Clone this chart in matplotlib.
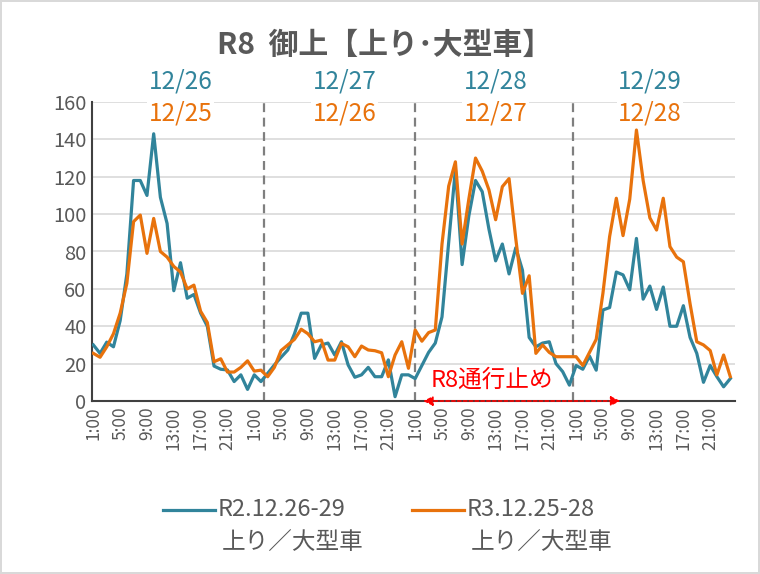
import numpy as np
import matplotlib
matplotlib.use("Agg")
import matplotlib.pyplot as plt
from matplotlib.lines import Line2D

plt.rcParams['font.family'] = ['Noto Sans CJK JP', 'DejaVu Sans']

# hourly counts, 4 days x 24 h
r2_vals = [30, 25.5, 31.5, 29, 43, 68, 118, 118, 110, 143, 109, 95, 59, 74, 55, 57, 47, 40, 18.7, 17, 16.6, 10.4, 14, 6.2,
           14, 10.4, 14.8, 19.3, 23.4, 27.3, 36, 47, 47, 22.8, 30, 31, 24.6, 31.7, 19.3, 12.7, 14, 18, 13, 13, 22, 2.3, 14, 14,
           12, 19, 26, 31, 45, 85, 124, 73, 99, 118, 112, 92, 75, 84, 68, 82, 70, 34, 29, 31, 31.7, 20, 15.7, 8.5,
           19, 17, 24, 16.5, 48.7, 50, 69, 67.5, 59.5, 87, 54.5, 61.5, 49, 61, 40, 40, 51, 34, 25.5, 10, 19, 13, 7.6, 12]
r3_vals = [25.5, 23.4, 29, 36, 47, 63, 96, 99.5, 79, 97.7, 80, 77, 72, 69, 60, 62, 48, 42, 21, 22.6, 15.5, 15.5, 18, 21.5,
           16, 16.5, 13, 18, 27, 30, 33, 38.4, 36, 31.7, 32.6, 21.9, 21.9, 30.8, 29, 23.7, 29.4, 27.3, 26.9, 25.8, 13, 24.6, 31.7, 17.5,
           38, 32, 36.6, 38, 84, 115, 128, 84, 108, 130, 123, 113, 97, 114.7, 119, 87, 57.6, 67, 25.5, 30, 26, 23.7, 23.7, 23.7,
           23.7, 19, 26, 33, 57.6, 88, 108.5, 88.5, 108, 145, 118, 98, 91.5, 108.5, 82.6, 77, 74.5, 52, 31.7, 30, 27, 14, 24.6, 13]

hour_labels = ["1:00", "5:00", "9:00", "13:00", "17:00", "21:00"] * 4
r2_days = ["12/26", "12/27", "12/28", "12/29"]
r3_days = ["12/25", "12/26", "12/27", "12/28"]
day_label_x = [13, 37.5, 60, 83]
sep_x = [25.5, 47.9, 71.5]
closure = (49.2, 78.6)

BLUE = "#31849B"
ORANGE = "#E8720C"
GRAY = "#595959"

fig = plt.figure(figsize=(7.6, 5.74), dpi=100)
fig.patch.set_edgecolor("#D9D9D9")
fig.patch.set_linewidth(1.5)
ax = fig.add_axes([92 / 760, 173 / 574, 643 / 760, 299 / 574])

x = np.arange(len(r2_vals))
ax.plot(x, r2_vals, color=BLUE, lw=2.3, zorder=3)
ax.plot(x, r3_vals, color=ORANGE, lw=2.3, zorder=4)

ax.set_xlim(-0.2, 95.7)
ax.set_ylim(0, 160)
ax.set_yticks(range(0, 161, 20))
ax.set_xticks(x[::4])
ax.set_xticklabels(hour_labels, rotation=90, fontsize=12.5, color=GRAY)
ax.tick_params(axis="y", labelsize=14.5, labelcolor=GRAY, length=0, pad=4)
ax.tick_params(axis="x", length=0, pad=4)
ax.grid(axis="y", color="#D9D9D9", lw=1.2, zorder=0)
ax.set_axisbelow(True)
for s in ["top", "right"]:
    ax.spines[s].set_visible(False)
ax.spines["left"].set_color("#404040")
ax.spines["bottom"].set_color("#404040")
ax.spines["left"].set_linewidth(1.5)
ax.spines["bottom"].set_linewidth(1.5)

for sx in sep_x:
    ax.plot([sx, sx], [0, 160], color="#7F7F7F", lw=1.6, ls=(0, (4, 2.5)), zorder=2)

for dx, b, o in zip(day_label_x, r2_days, r3_days):
    ax.text(dx, 171, b, color=BLUE, fontsize=17.5, ha="center", va="center", zorder=5,
            bbox=dict(facecolor="white", edgecolor="none", pad=1), clip_on=False)
    ax.text(dx, 154, o, color=ORANGE, fontsize=17.5, ha="center", va="center", zorder=5,
            bbox=dict(facecolor="white", edgecolor="none", pad=1))

# closure arrow + label
ax.annotate("", xy=(closure[0], 0), xytext=(closure[1], 0),
            arrowprops=dict(arrowstyle="<|-|>", color="red", lw=1.2, ls=(0, (2, 1.5)),
                            mutation_scale=14, shrinkA=0, shrinkB=0),
            annotation_clip=False, zorder=6)
ax.text(59.5, 11, "R8通行止め", color="red", fontsize=17, ha="center", va="center", zorder=6)

fig.text(385 / 760, 1 - 45 / 574, "R8  御上【上り･大型車】", fontsize=21.5, color=GRAY,
         ha="center", va="center", fontweight="bold")

# legend (manual so the line sits beside the first text line)
for hx, col, l1 in [(163, BLUE, "R2.12.26-29"), (412, ORANGE, "R3.12.25-28")]:
    fig.add_artist(Line2D([hx / 760, (hx + 52) / 760], [1 - 510 / 574] * 2, color=col, lw=2.3))
    fig.text((hx + 55) / 760, 1 - 510 / 574, l1, fontsize=17, color=GRAY, va="center")
    fig.text((hx + 59) / 760, 1 - 543 / 574, "上り／大型車", fontsize=17, color=GRAY, va="center")

fig.savefig("out.png", dpi=100)
